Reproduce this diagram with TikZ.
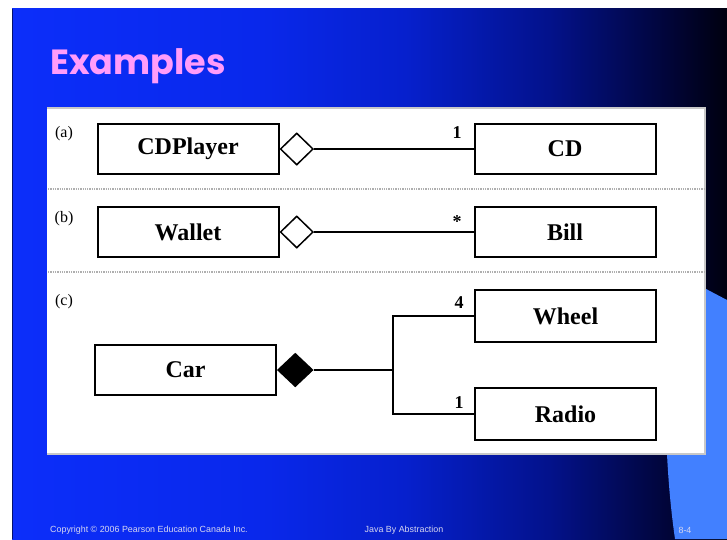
\documentclass[tikz,border=0pt]{standalone}
\usepackage{fontspec}
\setmainfont{Liberation Serif}
\newfontfamily\footfont{Liberation Sans}
\newfontfamily\titlefont{Poppins}
\usetikzlibrary{shapes.geometric,calc}
\definecolor{bgA}{RGB}{12,46,250}
\definecolor{bgB}{RGB}{9,40,235}
\definecolor{bgC}{RGB}{6,32,205}
\definecolor{bgD}{RGB}{3,18,140}
\definecolor{bgE}{RGB}{1,6,65}
\definecolor{bgF}{RGB}{0,0,15}
\definecolor{lightblue}{RGB}{66,128,255}
\definecolor{titlepink}{RGB}{255,156,250}
\definecolor{footgray}{RGB}{214,214,240}
\definecolor{panelgray}{RGB}{200,200,200}
\definecolor{sepgray}{RGB}{175,175,175}
\pgfdeclarehorizontalshading{slidebg}{100bp}{color(0bp)=(bgA); color(25bp)=(bgA); color(42.5bp)=(bgB); color(52.5bp)=(bgC); color(62.5bp)=(bgD); color(70bp)=(bgE); color(75bp)=(bgF); color(100bp)=(bgF)}
\begin{document}
\begin{tikzpicture}[x=1pt,y=-1pt,
  box/.style={draw=black, line width=2pt, fill=white, minimum width=181pt, minimum height=50pt, inner sep=0pt, font=\fontsize{24}{28}\selectfont\bfseries},
  agg/.style={draw=black, line width=1.5pt, fill=white, shape=diamond, inner sep=0pt, minimum width=33pt, minimum height=32pt, anchor=west},
  comp/.style={agg, fill=black, minimum width=35pt, minimum height=33pt},
  conn/.style={line width=1.8pt},
  tag/.style={font=\fontsize{16}{18}\selectfont},
  mult/.style={font=\fontsize{18}{20}\selectfont\bfseries},
  foot/.style={font=\footfont\fontsize{8.9}{10}\selectfont, text=footgray},
  sepline/.style={draw=sepgray, line width=1.3pt, densely dotted}]
\useasboundingbox (0,0) rectangle (727,539);
\fill[white] (0,0) rectangle (727,539);
% slide background
\shade[shading=slidebg] (12,8) rectangle (727,539);
\draw[draw=bgF!60!bgA, line width=1pt] (12.5,8.5) -- (12.5,539);
% light blue corner shape
\fill[lightblue] (675,539) .. controls (665,470) and (662,380) .. (670,270) -- (727,300) -- (727,539) -- cycle;
% title
\node[anchor=base west, inner sep=0pt, text=titlepink, font=\titlefont\bfseries\fontsize{35}{40}\selectfont] (title) at (50,74) {Examples};
% panel
\fill[white] (47,108) rectangle (705,454);
\draw[panelgray, line width=1.5pt] (47,108) -- (705,108) -- (705,454) -- (47,454);
\draw[sepline] (48,189) -- (704,189);
\draw[sepline] (48,272) -- (704,272);
% (a)
\node[tag] (la) at (64,134) {(a)};
\node[box] (cdp) at (188,149) {CDPlayer};
\node[box] (cd) at (565,149) {CD};
\node[agg] (da) at (cdp.east) {};
\draw[conn] (da.east) -- (cd.west);
\node[mult] (ma) at (457,133) {1};
% (b)
\node[tag] (lb) at (64,219) {(b)};
\node[box] (wal) at (188,232) {Wallet};
\node[box] (bill) at (565,232) {Bill};
\node[agg] (db) at (wal.east) {};
\draw[conn] (db.east) -- (bill.west);
\node[mult] (mb) at (457,222) {*};
% (c)
\node[tag] (lc) at (64,302) {(c)};
\node[box] (car) at (185.5,370) {Car};
\node[box, minimum height=52pt] (wheel) at (565.5,316) {Wheel};
\node[box, minimum height=52pt] (radio) at (565.5,414) {Radio};
\node[comp] (dc) at (car.east) {};
\coordinate (j) at (393,370);
\draw[conn] (dc.east) -- (j);
\draw[conn] (j) |- (wheel.west);
\draw[conn] (j) |- (radio.west);
\node[mult] (mc) at (459,303) {4};
\node[mult] (md) at (459,403) {1};
% footer
\node[foot, anchor=west, inner sep=0pt] (f1) at (50,530) {Copyright © 2006 Pearson Education Canada Inc.};
\node[foot, inner sep=0pt] (f2) at (404,530) {Java By Abstraction};
\node[foot, inner sep=0pt] (f3) at (685,530) {8-4};
\end{tikzpicture}
\end{document}
